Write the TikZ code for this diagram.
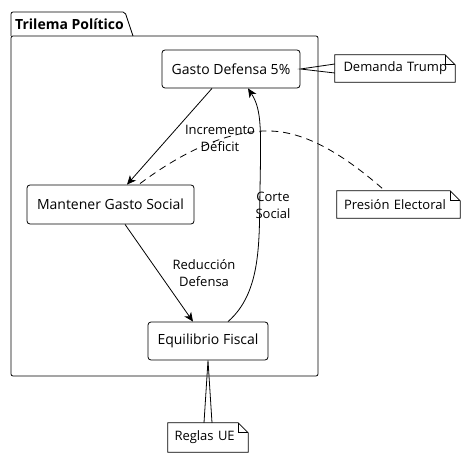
\documentclass[tikz,border=0pt]{standalone}
\usepackage{fontspec}
\setmainfont{Open Sans}
\usetikzlibrary{arrows.meta,calc}
\newcommand\mynote[1]{%
  \draw[thin line] (#1.north west) -- ($(#1.north east)+(-10,0)$) -- ($(#1.north east)+(0,10)$) -- (#1.south east) -- (#1.south west) -- cycle;
  \draw[thin line] ($(#1.north east)+(-10,0)$) |- ($(#1.north east)+(0,10)$);}
\begin{document}
\begin{tikzpicture}[x=1pt,y=-1pt,
  thin line/.style={line width=0.8pt, black},
  box/.style={draw, line width=0.8pt, rounded corners=3pt, fill=white, inner sep=0pt, font=\fontsize{14}{16}\selectfont},
  notebox/.style={inner ysep=0pt, inner xsep=0pt, align=left, font=\fontsize{13}{16}\selectfont},
  lbl/.style={align=center, inner sep=0pt, font=\fontsize{13}{17}\selectfont},
  arr/.style={line width=0.8pt, -{Stealth[length=9pt,width=8pt,inset=2.5pt]}},
  link/.style={line width=0.8pt},
  ndash/.style={line width=0.8pt, dash pattern=on 7pt off 5pt}]
\useasboundingbox (0,0) rectangle (466,457);
% package
\draw[thin line, rounded corners=2pt] (11,36) rectangle (318,376);
\draw[thin line, rounded corners=2pt] (11,36) -- (11,12) -- (125,12) -- (133,36);
\node[anchor=west, inner sep=0pt, font=\fontsize{14}{16}\selectfont\bfseries] (title) at (15,24) {Trilema Político};
% nodes
\node[box, minimum width=138, minimum height=38] (gd) at (231,69) {Gasto Defensa 5\%};
\node[box, minimum width=167, minimum height=39] (mg) at (110.5,204.5) {Mantener Gasto Social};
\node[box, minimum width=120, minimum height=38] (ef) at (208,341) {Equilibrio Fiscal};
% notes
\node[notebox, text width=120pt, minimum height=27] (dt) at (395,68.5) {\hspace*{8.5pt}Demanda Trump};
\node[notebox, text width=123pt, minimum height=27] (pe) at (398.5,204.5) {\hspace*{7pt}Presión Electoral};
\node[notebox, text width=80pt, minimum height=29] (ru) at (208,437.5) {\hspace*{6.5pt}Reglas UE};
\mynote{dt}
\mynote{pe}
\mynote{ru}
% note connectors
\draw[link] ($(dt.west)+(0,-4.5)$) -- (gd.east) -- ($(dt.west)+(0,4.5)$);
\draw[link] ($(ru.north)+(-4,0)$) -- (ef.south) -- ($(ru.north)+(4,0)$);
% arrows
\draw[arr] ($(gd.south)+(-19,0)$) -- ($(mg.north)+(16.5,0)$);
\draw[arr] ($(mg.south)+(14.5,0)$) -- ($(ef.north)+(-15,0)$);
\draw[arr] ($(ef.north)+(20,0)$) .. controls (262,292) and (259,240) .. (260,190) .. controls (261,130) and (262,110) .. ($(gd.south)+(17,0)$);
% dashed note link
\draw[ndash] ($(mg.north)+(29.5,-1)$) .. controls (185,150) and (230,130) .. (270,131) .. controls (310,132) and (350,160) .. ($(pe.north)+(-13.5,0)$);
% labels
\node[lbl] (l1) at (220,138) {Incremento\\Déficit};
\node[lbl] (l2) at (204,273) {Reducción\\Defensa};
\node[lbl] (l3) at (273,205.5) {Corte\\Social};
\end{tikzpicture}
\end{document}
